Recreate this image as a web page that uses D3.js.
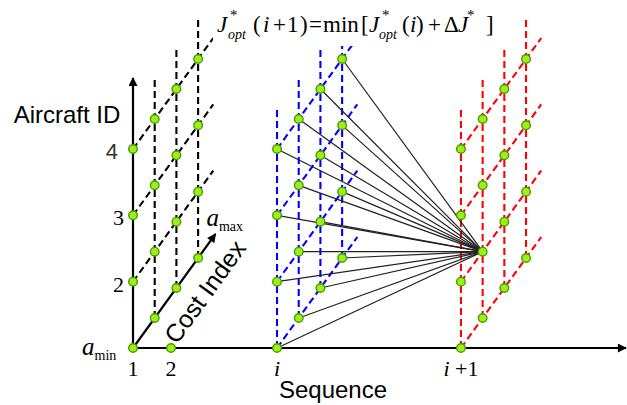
<!DOCTYPE html>
<html><head><meta charset="utf-8">
<script src="https://cdn.jsdelivr.net/npm/d3@7"></script>
<style>body{margin:0;background:#fff}</style>
</head><body>
<svg id="chart" width="627" height="405"></svg>
<script>
// ---- data ----
const aircraftIds = [1, 2, 3, 4];
const costLevels = [0, 1, 2, 3];
const stageNames = ["1", "i", "i+1"];
const stageSeq = [1, 4.79, 9.63];
const stageColors = ["#000000", "#0000ff", "#ff0000"];
const seqTickLabels = ["1", "2", "i", "i+1"];
const seqTickPos = [1, 2, 4.79, 9.63];
const aircraftTickLabels = ["2", "3", "4"];
const aircraftTickIds = [2, 3, 4];
const targetStage = "i+1", targetAircraft = 2, targetCost = 1;
const sourceStage = "i";

// ---- scales ----
const svg = d3.select("#chart");
const x = d3.scaleLinear().domain([1, 2]).range([133, 171]);
const y = d3.scaleLinear().domain([1, 4]).range([348, 149]);
const cx = d3.scaleLinear().domain([0, 1]).range([0, 21.7]);
const cy = d3.scaleLinear().domain([0, 1]).range([0, -30]);
const P = (seq, a, c) => [x(seq) + cx(c), y(a) + cy(c)];
const seqOf = s => stageSeq[stageNames.indexOf(s)];

const defs = svg.append("defs");
defs.append("marker").attr("id", "arr").attr("viewBox", "0 0 10 10")
  .attr("refX", 9).attr("refY", 5).attr("markerWidth", 10).attr("markerHeight", 9)
  .attr("markerUnits", "userSpaceOnUse").attr("orient", "auto")
  .append("path").attr("d", "M0,0 L10,5 L0,10 Z").attr("fill", "#000");

const line = d3.line();
const gDash = svg.append("g").attr("fill", "none").attr("stroke-width", 2.1).attr("stroke-dasharray", "7,4");

stageNames.forEach((s, si) => {
  const seq = stageSeq[si], col = stageColors[si];
  costLevels.forEach(c => {
    if (si === 0 && c === 0) return;
    gDash.append("path").attr("stroke", col).attr("d", line([P(seq, 1, c), P(seq, 4.65, c)]));
  });
  aircraftIds.forEach(a => {
    if (si === 0 && a === 1) return;
    gDash.append("path").attr("stroke", col).attr("d", line([P(seq, a, 0), P(seq, a, 3.7)]));
  });
});

// fan lines from every i-node to the chosen node at i+1
const tgt = P(seqOf(targetStage), targetAircraft, targetCost);
const gFan = svg.append("g").attr("stroke", "#222").attr("stroke-width", 1.2);
aircraftIds.forEach(a => costLevels.forEach(c => {
  gFan.append("path").attr("d", line([P(seqOf(sourceStage), a, c), tgt]));
}));

// axes
const gAx = svg.append("g").attr("stroke", "#000").attr("stroke-width", 2.2).attr("fill", "none");
gAx.append("path").attr("d", line([P(1, 1, 0), [626, y(1)]])).attr("marker-end", "url(#arr)");
gAx.append("path").attr("d", line([P(1, 1, 0), P(1, 5.07, 0)])).attr("marker-end", "url(#arr)");
gAx.append("path").attr("d", line([P(1, 1, 0), P(1, 1, 3.8)])).attr("marker-end", "url(#arr)");

// nodes
const nodes = [];
stageSeq.forEach(seq => aircraftIds.forEach(a => costLevels.forEach(c => nodes.push(P(seq, a, c)))));
nodes.push(P(2, 1, 0));
svg.append("g").selectAll("circle").data(nodes).join("circle")
  .attr("cx", d => d[0]).attr("cy", d => d[1]).attr("r", 4.3)
  .attr("fill", "#9cf01a").attr("stroke", "#4c9a00").attr("stroke-width", 1.4);

// formula box
svg.append("rect").attr("x", 213).attr("y", 0).attr("width", 287).attr("height", 46).attr("fill", "#fff");
const serif = "'Liberation Serif', 'Times New Roman', serif";
const sans = "'Liberation Sans', Arial, sans-serif";
const ft = svg.append("text").attr("font-family", serif).attr("font-size", 23).attr("fill", "#000");
const piece = (txt, px, py, opt = {}) => {
  const t = ft.append("tspan").attr("x", px).attr("y", py).text(txt);
  if (opt.it) t.attr("font-style", "italic");
  if (opt.fs) t.attr("font-size", opt.fs);
};
piece("J", 217, 32, {it: 1}); piece("*", 230, 20, {fs: 15}); piece("opt", 228, 39, {it: 1, fs: 14});
piece("(", 253, 32); piece("i", 263, 32, {it: 1}); piece("+", 273, 32); piece("1", 287, 32); piece(")", 300, 32);
piece("=", 309, 32); piece("min", 323, 32); piece("[", 361, 32);
piece("J", 369, 32, {it: 1}); piece("*", 382, 20, {fs: 15}); piece("opt", 379, 39, {it: 1, fs: 14});
piece("(", 402, 32); piece("i", 410, 32, {it: 1}); piece(")", 416, 32);
piece("+", 428, 32); piece("Δ", 444, 32); piece("J", 458, 32, {it: 1}); piece("*", 467, 20, {fs: 15});
piece("]", 486, 32);

// labels
svg.append("text").attr("x", 67).attr("y", 123).attr("text-anchor", "middle")
  .attr("font-family", sans).attr("font-size", 24).text("Aircraft ID");
aircraftTickIds.forEach((a, k) => {
  const lab = aircraftTickLabels[k];
  svg.append("text").attr("x", lab === "4" ? 118 : 124).attr("y", y(a) + 10).attr("text-anchor", "end")
    .attr("font-family", lab === "4" ? sans : serif).attr("fill", lab === "4" ? "#333" : "#000")
    .attr("font-size", 22).text(lab);
});
seqTickLabels.forEach((lab, k) => {
  const t = svg.append("text").attr("x", x(seqTickPos[k])).attr("y", 376).attr("text-anchor", "middle")
    .attr("font-family", serif).attr("font-size", 22);
  if (lab.startsWith("i")) {
    t.append("tspan").attr("font-style", "italic").text("i");
    if (lab.length > 1) t.append("tspan").text(" +1");
  } else t.text(lab);
});
svg.append("text").attr("x", 333).attr("y", 398).attr("text-anchor", "middle")
  .attr("font-family", sans).attr("font-size", 24).text("Sequence");

// a_min / a_max
const amin = svg.append("text").attr("font-family", serif).attr("x", 82).attr("y", 355);
amin.append("tspan").attr("font-style", "italic").attr("font-size", 25).text("a");
amin.append("tspan").attr("font-size", 14).attr("dy", 5).text("min");
const tip = P(1, 1, 3.8);
const amax = svg.append("text").attr("font-family", serif).attr("x", tip[0] - 9).attr("y", tip[1] - 8);
amax.append("tspan").attr("font-style", "italic").attr("font-size", 25).text("a");
amax.append("tspan").attr("font-size", 14).attr("dy", 5).text("max");

// Cost Index label along the diagonal axis
const ang = Math.atan2(cy(1), cx(1));
const base = P(1, 1, 2.37);
const off = 25;
const cc = [base[0] + off * Math.cos(ang + Math.PI / 2), base[1] + off * Math.sin(ang + Math.PI / 2)];
svg.append("text").attr("transform", `translate(${cc[0]},${cc[1]}) rotate(${ang * 180 / Math.PI})`)
  .attr("text-anchor", "middle").attr("dominant-baseline", "central")
  .attr("font-family", sans).attr("font-size", 25).text("Cost Index");
</script>
</body></html>
